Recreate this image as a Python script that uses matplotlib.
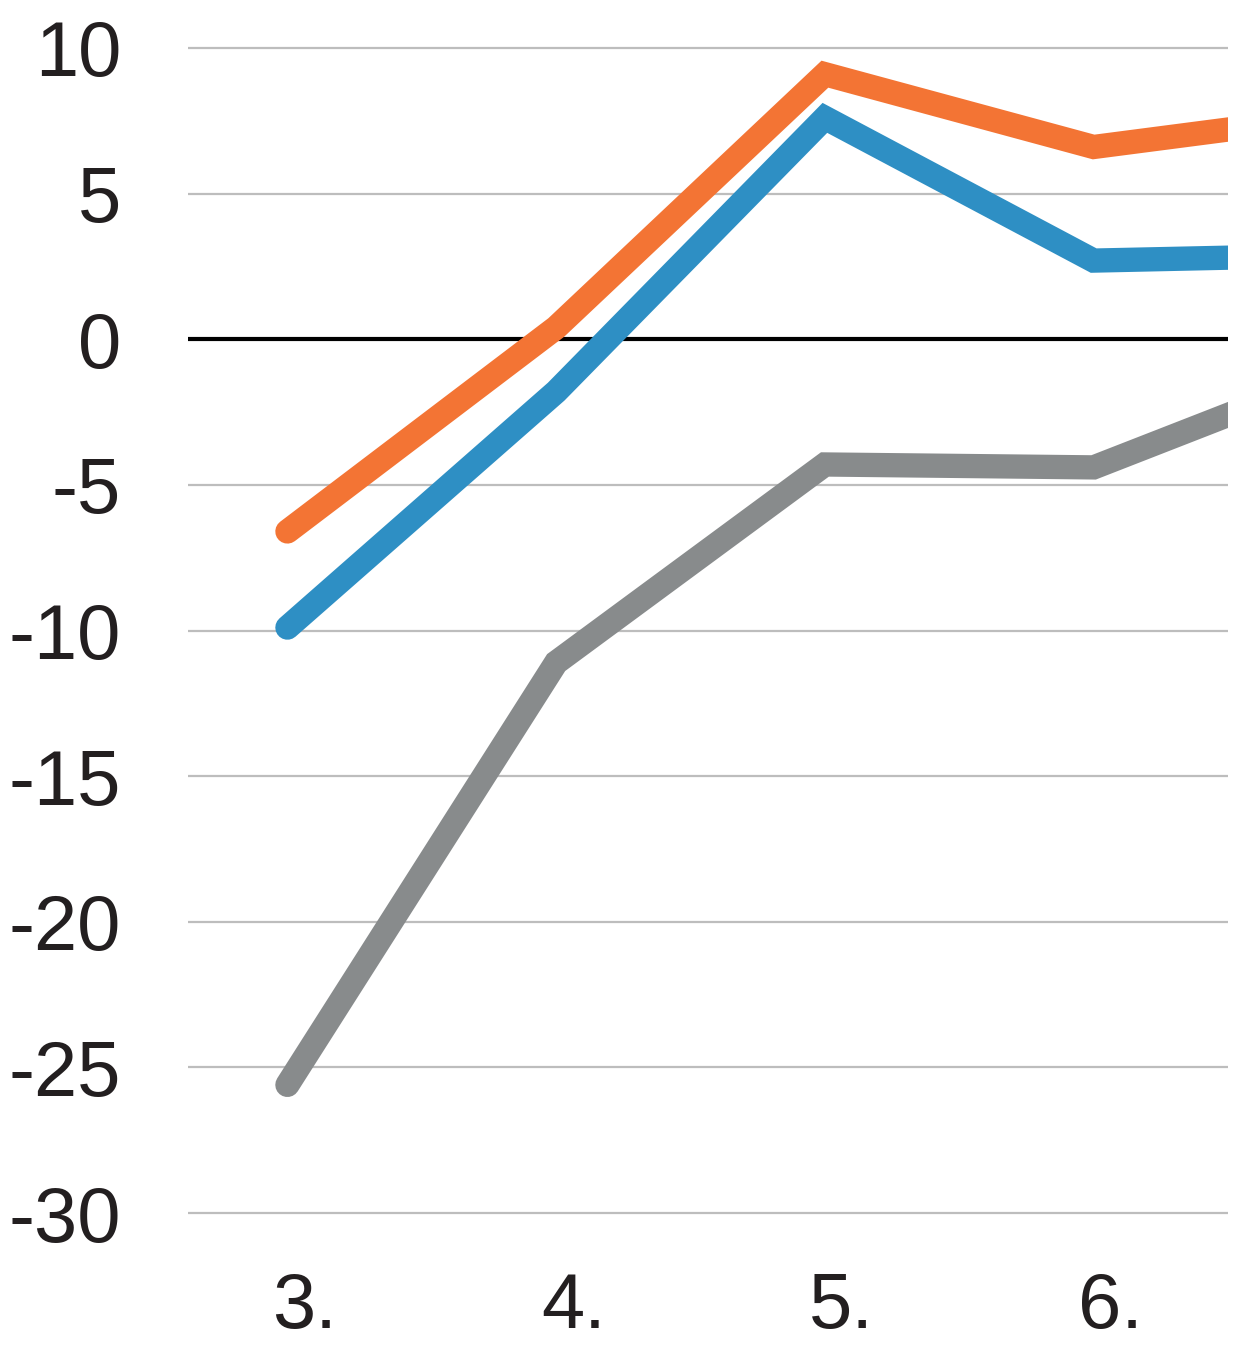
import matplotlib
matplotlib.use("Agg")
import matplotlib.pyplot as plt
import matplotlib.transforms as mtransforms

# data (x = category number, last point lies past the right edge)
categories = [3, 4, 5, 6, 7]
tick_labels = ["3.", "4.", "5.", "6.", "7."]
orange_vals = [-6.6, 0.4, 9.1, 6.6, 7.8]
blue_vals = [-9.9, -1.8, 7.6, 2.7, 2.9]
gray_vals = [-25.6, -11.1, -4.3, -4.4, -0.8]
y_ticks = [10, 5, 0, -5, -10, -15, -20, -25, -30]

plt.rcParams['font.family'] = ['Liberation Sans', 'DejaVu Sans']

W, H = 1235, 1345
fig = plt.figure(figsize=(W / 100, H / 100), dpi=100)

# axes placement in pixels
left, right = 188, 1228
top, bottom = 33.4, 1227.6
ax = fig.add_axes([left / W, 1 - bottom / H, (right - left) / W, (bottom - top) / H])

for yv in y_ticks:
    if yv == 0:
        continue
    ax.axhline(yv, color="#bdbdbd", lw=1.6, zorder=1)
ax.axhline(0, color="black", lw=3, zorder=2)

line_kw = dict(lw=17.5, solid_capstyle="round", solid_joinstyle="miter", zorder=3)
ax.plot(categories, gray_vals, color="#888b8c", **line_kw)
ax.plot(categories, blue_vals, color="#2e8fc4", **line_kw)
ax.plot(categories, orange_vals, color="#f37434", **line_kw)

ax.set_yticks(y_ticks)
ax.set_yticklabels([str(v) for v in y_ticks])
ax.set_xticks(categories)
ax.set_xticklabels(tick_labels)
ax.tick_params(axis="y", length=0, pad=48, labelsize=56, labelcolor="#231f20")
ax.tick_params(axis="x", length=0, pad=31, labelsize=56, labelcolor="#231f20")
# category labels sit a little right of their points
shift = mtransforms.ScaledTranslation(0.17, 0, fig.dpi_scale_trans)
for lbl in ax.get_xticklabels():
    lbl.set_transform(lbl.get_transform() + shift)
for s in ax.spines.values():
    s.set_visible(False)

# limits last, so set_xticks does not widen the view
ax.set_xlim(2.63, 6.5)
ax.set_ylim(-30.5, 10.5)

fig.savefig("out.png", dpi=100)
